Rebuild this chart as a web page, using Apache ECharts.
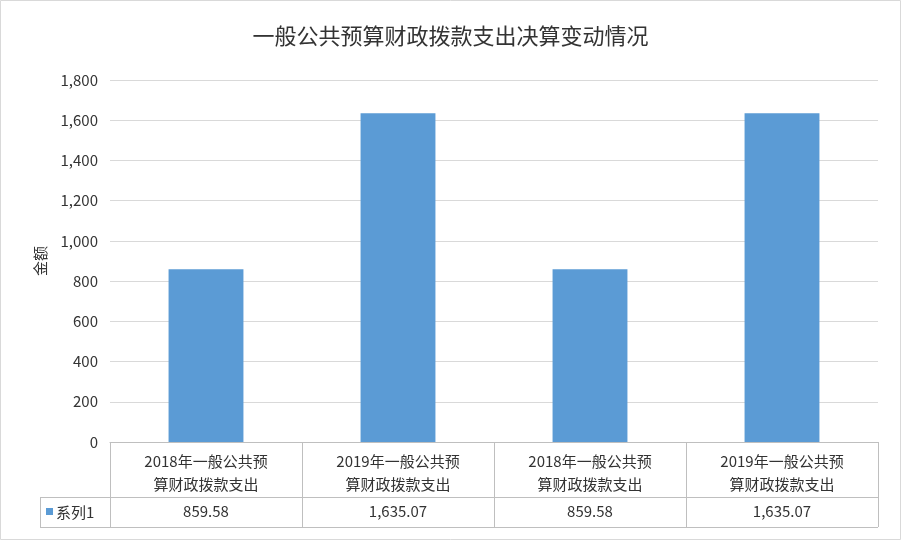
<!DOCTYPE html>
<html><head><meta charset="utf-8">
<script src="https://cdn.jsdelivr.net/npm/echarts@6/dist/echarts.min.js"></script>
<style>html,body{margin:0;padding:0;}#c{width:901px;height:540px;}</style>
</head><body><div id="c"></div>
<script>
const categories = ["2018年一般公共预\n算财政拨款支出","2019年一般公共预\n算财政拨款支出","2018年一般公共预\n算财政拨款支出","2019年一般公共预\n算财政拨款支出"];
const values = [859.58, 1635.07, 859.58, 1635.07];
const seriesName = "系列1";
const F = "'Noto Sans CJK SC', serif";
const fmt = v => v.toLocaleString('en-US',{minimumFractionDigits:2});
const chart = echarts.init(document.getElementById('c'));
const lc = '#bfbfbf';
chart.setOption({
  animation:false,
  backgroundColor:'#fff',
  title:{text:'一般公共预算财政拨款支出决算变动情况',left:'center',top:20,textStyle:{fontFamily:F,fontSize:22,fontWeight:'normal',color:'#333'}},
  grid:{left:110,right:23,top:80,bottom:98},
  yAxis:{type:'value',min:0,max:1800,interval:200,name:'金额',nameLocation:'middle',nameGap:62,nameRotate:90,
    nameTextStyle:{fontFamily:F,fontSize:15,color:'#333'},
    axisLabel:{fontFamily:F,fontSize:15,color:'#333',margin:12},
    splitLine:{lineStyle:{color:'#d9d9d9'}},axisLine:{show:false},axisTick:{show:false}},
  xAxis:[
    {type:'category',data:categories,axisLine:{lineStyle:{color:lc}},
     axisTick:{show:true,length:85,lineStyle:{color:lc}},
     axisLabel:{fontFamily:F,fontSize:15,color:'#333',margin:8,lineHeight:23,interval:0}},
    {type:'category',data:values,position:'bottom',axisLine:{show:false},axisTick:{show:false},
     axisLabel:{fontFamily:F,fontSize:15,color:'#333',margin:62,formatter:v=>fmt(Number(v)),interval:0}}
  ],
  series:[{name:seriesName,type:'bar',data:values,barWidth:'39%',itemStyle:{color:'#5b9bd5'}}],
  graphic:[
    {type:'rect',shape:{x:0.5,y:0.5,width:900,height:539},style:{fill:'none',stroke:'#d9d9d9'}},
    {type:'line',shape:{x1:40,y1:497.5,x2:878,y2:497.5},style:{stroke:lc}},
    {type:'line',shape:{x1:40,y1:527.5,x2:878,y2:527.5},style:{stroke:lc}},
    {type:'line',shape:{x1:40.5,y1:497,x2:40.5,y2:527},style:{stroke:lc}},
    {type:'line',shape:{x1:110.5,y1:442,x2:110.5,y2:527},style:{stroke:lc}},
    {type:'rect',shape:{x:46,y:508,width:7,height:7},style:{fill:'#5b9bd5'}},
    {type:'text',x:56,y:512,style:{text:seriesName,fontFamily:F,fontSize:15,fill:'#333',verticalAlign:'middle'}}
  ]
});
</script></body></html>
